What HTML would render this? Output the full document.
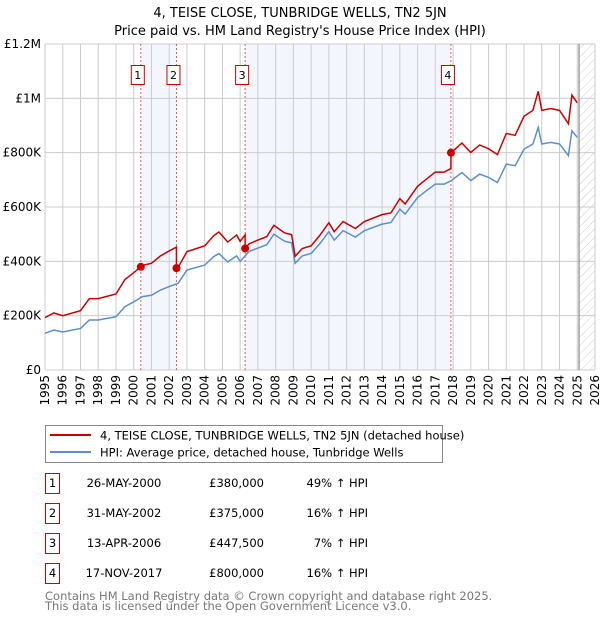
<!DOCTYPE html>
<html><head><meta charset="utf-8"><style>
body{margin:0;background:#fff;font-family:"DejaVu Sans","Liberation Sans",sans-serif;}
svg text{font-family:"DejaVu Sans","Liberation Sans",sans-serif;}
</style></head><body>
<svg id="chart" width="600" height="620" viewBox="0 0 600 620" xmlns="http://www.w3.org/2000/svg">
<defs><pattern id="hatch" width="6" height="6" patternUnits="userSpaceOnUse" patternTransform="rotate(45)"><line x1="0" y1="0" x2="0" y2="6" stroke="#ccc" stroke-width="1"/></pattern></defs>
<text x="300" y="17" text-anchor="middle" font-size="13">4, TEISE CLOSE, TUNBRIDGE WELLS, TN2 5JN</text>
<text x="300" y="35" text-anchor="middle" font-size="13">Price paid vs. HM Land Registry's House Price Index (HPI)</text>
<g id="plot"></g>
<rect x="45.5" y="425.5" width="397" height="37" fill="#fff" stroke="#888"/>
<line x1="50" y1="435" x2="91" y2="435" stroke="#cc0000" stroke-width="2"/>
<text x="100" y="439.5" font-size="11.5">4, TEISE CLOSE, TUNBRIDGE WELLS, TN2 5JN (detached house)</text>
<line x1="50" y1="452" x2="91" y2="452" stroke="#5b8fd0" stroke-width="2"/>
<text x="100" y="456.5" font-size="11.5">HPI: Average price, detached house, Tunbridge Wells</text>
<g id="table" font-size="11.5"></g>
<text x="45" y="600" font-size="11.5" fill="#777">Contains HM Land Registry data © Crown copyright and database right 2025.</text>
<text x="45" y="610" font-size="11.5" fill="#777">This data is licensed under the Open Government Licence v3.0.</text>
</svg>
<script>
const hpiYears=[1995.0,1995.5,1996.0,1997.0,1997.5,1998.0,1999.0,1999.5,2000.0,2000.5,2001.0,2001.5,2002.0,2002.5,2003.0,2004.0,2004.5,2004.8,2005.3,2005.8,2006.0,2006.5,2007.0,2007.5,2007.9,2008.5,2008.9,2009.1,2009.5,2010.0,2010.5,2011.0,2011.3,2011.8,2012.5,2013.0,2014.0,2014.5,2015.0,2015.3,2016.0,2016.5,2017.0,2017.5,2017.9,2018.5,2019.0,2019.5,2020.0,2020.5,2021.0,2021.5,2022.0,2022.5,2022.8,2023.0,2023.5,2024.0,2024.5,2024.7,2025.0];
const hpiValues=[135,147,140,153,184,184,196,233,251,270,275,294,307,319,368,386,417,429,398,420,400,436,449,461,500,474,468,393,420,429,466,509,478,513,489,513,537,543,592,574,635,660,684,684,697,727,697,721,709,690,758,752,813,832,893,832,838,832,789,881,856];
const saleDates=[2000.40,2002.41,2006.28,2017.88];
const salePrices=[380000,375000,447500,800000];
const saleLabels=["26-MAY-2000","31-MAY-2002","13-APR-2006","17-NOV-2017"];
const salePriceText=["£380,000","£375,000","£447,500","£800,000"];
const saleHpiText=["49% ↑ HPI","16% ↑ HPI","7% ↑ HPI","16% ↑ HPI"];
const yTicks=[0,200000,400000,600000,800000,1000000,1200000];
const yTickLabels=["£0","£200K","£400K","£600K","£800K","£1M","£1.2M"];
const xYears=[1995,1996,1997,1998,1999,2000,2001,2002,2003,2004,2005,2006,2007,2008,2009,2010,2011,2012,2013,2014,2015,2016,2017,2018,2019,2020,2021,2022,2023,2024,2025,2026];

const X0=45,X1=595,Y0=370,Y1=44;
const xs=t=>X0+(t-1995)/31*(X1-X0);
const ys=v=>Y0-v/1200000*(Y0-Y1);
const NS="http://www.w3.org/2000/svg";
const plot=document.getElementById('plot');
function mk(tag,attrs,parent){const e=document.createElementNS(NS,tag);for(const k in attrs)e.setAttribute(k,attrs[k]);(parent||plot).appendChild(e);return e;}
function hpiAt(t){for(let i=0;i<hpiYears.length-1;i++){if(t>=hpiYears[i]&&t<=hpiYears[i+1]){const f=(t-hpiYears[i])/(hpiYears[i+1]-hpiYears[i]);return (hpiValues[i]+f*(hpiValues[i+1]-hpiValues[i]))*1000;}}return hpiValues[hpiValues.length-1]*1000;}

for(let i=0;i<saleDates.length;i+=2){
 const r=mk('rect',{x:xs(saleDates[i]),y:Y1,width:xs(saleDates[i+1])-xs(saleDates[i]),height:Y0-Y1,fill:'#f3f6fd'});
 
 
}
const hx=xs(2025.1);
const hr=mk('rect',{x:hx,y:Y1,width:X1-hx,height:Y0-Y1,fill:'url(#hatch)'});


yTicks.forEach((v,i)=>{
 const l=mk('line',{x1:X0,x2:X1,y1:ys(v),y2:ys(v),stroke:'#ccc','stroke-width':1});
 
 
 const t=mk('text',{x:X0-4,y:ys(v)+4,'text-anchor':'end','font-size':12});
 t.textContent=yTickLabels[i];
 
 
});
xYears.forEach(yr=>{
 const l=mk('line',{x1:xs(yr),x2:xs(yr),y1:Y1,y2:Y0,stroke:'#ccc','stroke-width':1});
 
 
 const t=mk('text',{x:0,y:0,'text-anchor':'end','font-size':12,transform:`translate(${xs(yr)+4},375) rotate(-90)`});
 t.textContent=yr;
 
 
});
const vl=mk('line',{x1:hx,x2:hx,y1:Y1,y2:Y0,stroke:'#888','stroke-width':1.2});


saleDates.forEach((d,i)=>{
 const l=mk('line',{x1:xs(d),x2:xs(d),y1:Y1,y2:Y0,stroke:'#e06060','stroke-width':1,'stroke-dasharray':'2,2'});
 
 
 const b=mk('rect',{x:xs(d)-9.5,y:65.5,width:13,height:19,fill:'#fff',stroke:'#cc0000'});
 
 
 const t=mk('text',{x:xs(d)-3,y:79,'text-anchor':'middle','font-size':11});
 t.textContent=String(i+1);
 
 
});
const hp=mk('polyline',{points:hpiYears.map((t,i)=>xs(t)+','+ys(hpiValues[i]*1000)).join(' '),fill:'none',stroke:'#5b8fd0','stroke-width':1.5});


const ratios=saleDates.map((d,i)=>salePrices[i]/hpiAt(d));
const pts=[];
function ratioAt(t){let r=ratios[0];for(let i=0;i<saleDates.length;i++)if(t>=saleDates[i])r=ratios[i];return r;}
const times=hpiYears.slice();
saleDates.forEach(d=>{times.push(d-0.001);times.push(d);});
times.sort((a,b)=>a-b);
times.forEach(t=>{pts.push(xs(t)+','+ys(hpiAt(t)*ratioAt(t)));});
const rp=mk('polyline',{points:pts.join(' '),fill:'none',stroke:'#cc0000','stroke-width':1.5});


saleDates.forEach((d,i)=>{
 const c=mk('circle',{cx:xs(d),cy:ys(salePrices[i]),r:4,fill:'#cc0000'});
 
 
});
const tb=document.getElementById('table');
saleDates.forEach((d,i)=>{
 const cy=483+i*30;
 const b=mk('rect',{x:45.5,y:cy-9.5,width:14,height:20,fill:'#fff',stroke:'#cc0000'},tb);
 
 
 const n=mk('text',{x:52.5,y:cy+4,'text-anchor':'middle'},tb);n.textContent=String(i+1);
 
 
 const a=mk('text',{x:124,y:cy+4,'text-anchor':'middle'},tb);a.textContent=saleLabels[i];
 
 
 const p=mk('text',{x:264,y:cy+4,'text-anchor':'end'},tb);p.textContent=salePriceText[i];
 
 
 const h=mk('text',{x:368,y:cy+4,'text-anchor':'end'},tb);h.textContent=saleHpiText[i];
 
 
});
</script>
</body></html>
